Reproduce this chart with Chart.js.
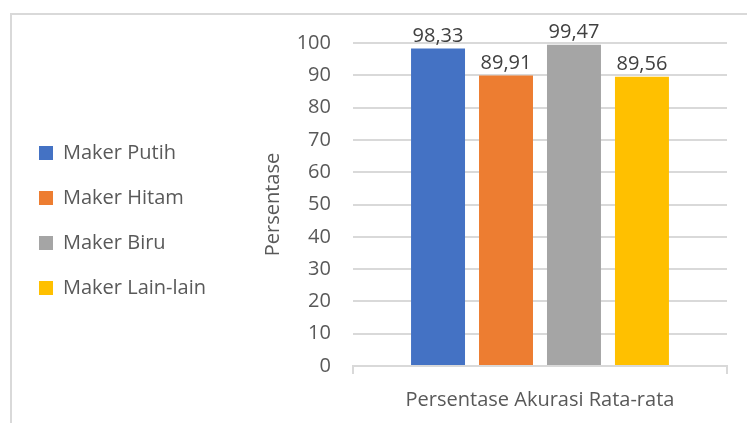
<!DOCTYPE html>
<html>
<head>
<meta charset="utf-8">
<script src="https://cdn.jsdelivr.net/npm/chart.js@4"></script>
<style>
  html, body { margin: 0; padding: 0; background: #fff; }
  #wrap { position: relative; width: 747px; height: 423px; overflow: hidden; }
  #frame {
    position: absolute; left: 10px; top: 13px; width: 760px; height: 430px;
    border-left: 2px solid #d9d9d9; border-top: 2px solid #d9d9d9;
    box-sizing: border-box;
  }
  canvas { position: absolute; left: 0; top: 0; }
</style>
</head>
<body>
<div id="wrap">
  <div id="frame"></div>
  <canvas id="chart" width="747" height="423"></canvas>
</div>
<script>
// ===== data =====
const categories = ['Persentase Akurasi Rata-rata'];
const seriesNames = ['Maker Putih', 'Maker Hitam', 'Maker Biru', 'Maker Lain-lain'];
const seriesValues = [98.33, 89.91, 99.47, 89.56];
const seriesColors = ['#4472c4', '#ed7d31', '#a5a5a5', '#ffc000'];
const yTicks = [0, 10, 20, 30, 40, 50, 60, 70, 80, 90, 100];

const FONT = '"Open Sans", sans-serif';

// value labels above each bar, comma as decimal separator
const barLabels = {
    id: 'barLabels',
    afterDatasetsDraw(chart) {
        const ctx = chart.ctx;
        ctx.save();
        ctx.font = '20px ' + FONT;
        ctx.fillStyle = '#404040';
        ctx.textAlign = 'center';
        ctx.textBaseline = 'bottom';
        chart.data.datasets.forEach((ds, i) => {
            const meta = chart.getDatasetMeta(i);
            meta.data.forEach((bar, j) => {
                const txt = ds.data[j].toFixed(2).replace('.', ',');
                ctx.fillText(txt, bar.x, bar.y - 2);
            });
        });
        ctx.restore();
    }
};

const datasets = seriesNames.map((name, i) => ({
    label: name,
    data: [seriesValues[i]],
    backgroundColor: seriesColors[i],
    borderWidth: 0,
    categoryPercentage: 0.727,
    barPercentage: 0.794
}));

new Chart(document.getElementById('chart').getContext('2d'), {
    type: 'bar',
    data: { labels: categories, datasets: datasets },
    options: {
        responsive: false,
        animation: false,
        layout: { padding: { left: 14, top: 43, right: 20, bottom: 0 } },
        plugins: {
            legend: {
                position: 'left',
                align: 'start',
                maxWidth: 260,
                // empty title just pushes the items down to the middle
                title: {
                    display: true,
                    text: '',
                    font: { size: 10 },
                    padding: { top: 63, bottom: 0 }
                },
                labels: {
                    boxWidth: 14,
                    boxHeight: 14,
                    padding: 25,
                    color: '#595959',
                    font: { family: FONT, size: 20 }
                }
            },
            tooltip: { enabled: false }
        },
        scales: {
            x: {
                grid: {
                    display: true,
                    drawOnChartArea: false,
                    color: '#d9d9d9',
                    lineWidth: 2,
                    tickLength: 8
                },
                border: { color: '#d9d9d9', width: 2 },
                ticks: {
                    color: '#595959',
                    padding: 14,
                    font: { family: FONT, size: 20 }
                },
                afterFit: (scale) => { scale.height = 57; }
            },
            y: {
                min: 0,
                max: 100,
                afterBuildTicks: (scale) => { scale.ticks = yTicks.map(v => ({ value: v })); },
                afterFit: (scale) => { scale.width = 137; },
                grid: { color: '#d9d9d9', lineWidth: 2, drawTicks: false },
                border: { display: false },
                ticks: {
                    color: '#595959',
                    padding: 22,
                    font: { family: FONT, size: 20 }
                },
                title: {
                    display: true,
                    text: 'Persentase',
                    color: '#595959',
                    padding: { top: 45, bottom: 0 },
                    font: { family: FONT, size: 20 }
                }
            }
        }
    },
    plugins: [barLabels]
});
</script>
</body>
</html>
